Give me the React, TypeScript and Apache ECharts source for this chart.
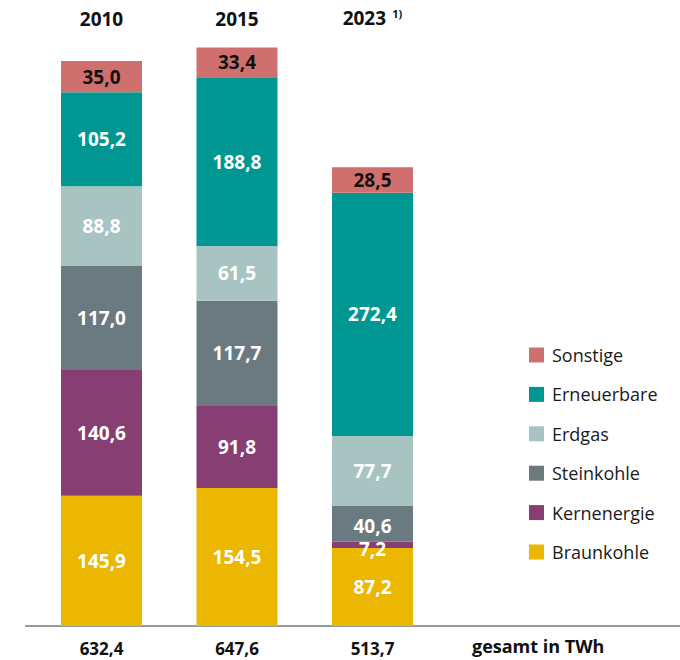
import React, { useEffect, useRef } from "react";
import * as echarts from "echarts";

const years = ["2010", "2015", "2023"];
const yearNotes = ["", "", "1)"];
const totals = ["632,4", "647,6", "513,7"];

const braunkohle = [145.9, 154.5, 87.2];
const kernenergie = [140.6, 91.8, 7.2];
const steinkohle = [117.0, 117.7, 40.6];
const erdgas = [88.8, 61.5, 77.7];
const erneuerbare = [105.2, 188.8, 272.4];
const sonstige = [35.0, 33.4, 28.5];

const seriesDefs = [
  { name: "Braunkohle", data: braunkohle, color: "#ebb700", label: "#ffffff" },
  { name: "Kernenergie", data: kernenergie, color: "#873e72", label: "#ffffff" },
  { name: "Steinkohle", data: steinkohle, color: "#6b7a80", label: "#ffffff" },
  { name: "Erdgas", data: erdgas, color: "#a7c4c3", label: "#ffffff" },
  { name: "Erneuerbare", data: erneuerbare, color: "#009792", label: "#ffffff" },
  { name: "Sonstige", data: sonstige, color: "#cf706f", label: "#111111" },
];

const legendOrder = ["Sonstige", "Erneuerbare", "Erdgas", "Steinkohle", "Kernenergie", "Braunkohle"];

const FONT = "'Open Sans', 'Noto Sans', sans-serif";

export default function App() {
  const ref = useRef<HTMLDivElement>(null);
  useEffect(() => {
    if (!ref.current) return;
    const chart = echarts.init(ref.current, undefined, { renderer: "svg" });
    chart.setOption({
      animation: false,
      textStyle: { fontFamily: FONT },
      grid: { left: 33.75, right: 239.75, top: 40, bottom: 34 },
      legend: {
        orient: "vertical",
        left: 524,
        top: 341,
        itemWidth: 15,
        itemHeight: 15,
        itemGap: 21.4,
        icon: "rect",
        data: legendOrder,
        selectedMode: false,
        textStyle: { fontSize: 18, color: "#1a1a1a", fontFamily: FONT, padding: [0, 0, 0, 3] },
      },
      xAxis: [
        {
          type: "category",
          data: years,
          position: "bottom",
          axisLine: { show: false },
          axisTick: { show: false },
          axisLabel: {
            margin: 14,
            fontSize: 17,
            fontWeight: "bold",
            color: "#111",
            fontFamily: FONT,
            formatter: (_v: string, i: number) => totals[i],
          },
        },
        {
          type: "category",
          data: years,
          position: "top",
          axisLine: { show: false },
          axisTick: { show: false },
          axisLabel: {
            margin: 12,
            fontFamily: FONT,
            formatter: (v: string, i: number) =>
              yearNotes[i] ? `{y|${v}}  {s|${yearNotes[i]}}` : `{y|${v}}`,
            rich: {
              y: { fontSize: 19, fontWeight: "bold", color: "#111", fontFamily: FONT },
              s: { fontSize: 11, fontWeight: "bold", color: "#111", fontFamily: FONT, padding: [0, 0, 9, 0] },
            },
          },
        },
      ],
      yAxis: { type: "value", min: 0, max: 656, show: false, splitLine: { show: false } },
      graphic: [
        {
          type: "line",
          shape: { x1: 25, y1: 626, x2: 680, y2: 626 },
          style: { stroke: "#6e7a80", lineWidth: 1.5 },
        },
        {
          type: "text",
          left: 472,
          top: 637,
          style: { text: "gesamt in TWh", fontSize: 18, fontWeight: "bold", fill: "#111", fontFamily: FONT },
        },
      ],
      series: seriesDefs.map((s) => ({
        name: s.name,
        type: "bar",
        stack: "total",
        barWidth: 81,
        xAxisIndex: 0,
        data: s.data.map((v) => ({
          value: v,
          label: v < 10 ? { offset: [0, 4] } : v < 50 && s.name === "Steinkohle" ? { offset: [0, 2] } : {},
        })),
        itemStyle: { color: s.color },
        label: {
          show: true,
          position: "inside",
          color: s.label,
          fontSize: 19,
          fontWeight: "bold",
          fontFamily: FONT,
          formatter: (p: any) => Number(p.value).toFixed(1).replace(".", ","),
        },
      })),
    });
    return () => chart.dispose();
  }, []);
  return <div ref={ref} style={{ position: "absolute", left: 0, top: 0, width: 680, height: 660 }} />;
}
